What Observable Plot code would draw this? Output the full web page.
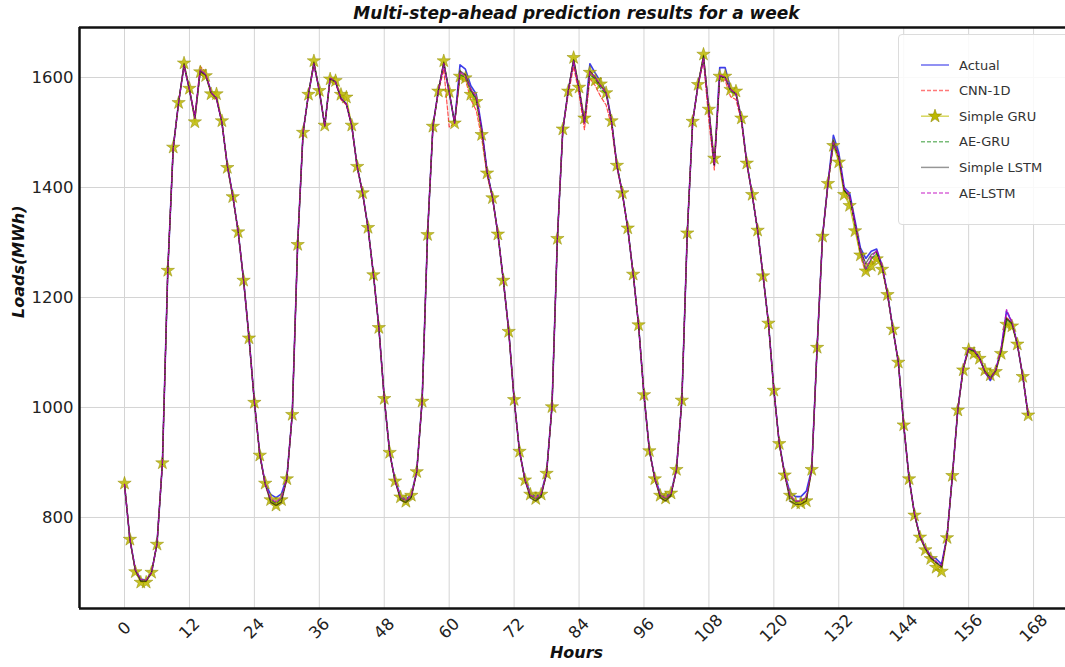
<!DOCTYPE html>
<html>
<head>
<meta charset="utf-8">
<script src="https://cdn.jsdelivr.net/npm/d3@7"></script>
<script src="https://cdn.jsdelivr.net/npm/@observablehq/plot@0.6"></script>
<style>
  html, body { margin: 0; padding: 0; background: #fff; overflow: hidden; }
  #wrap { position: relative; width: 1065px; height: 667px; font-family: "DejaVu Sans", sans-serif; }
  #legend { position: absolute; left: 898px; top: 34px; width: 185px; height: 189px;
            border: 1px solid #dcdcdc; border-radius: 4px; background: rgba(255,255,255,0.85); }
</style>
</head>
<body>
<div id="wrap"><div id="chart"></div><div id="legend"></div></div>
<script>
const title = "Multi-step-ahead prediction results for a week";
const xLabel = "Hours";
const yLabel = "Loads(MWh)";
const xTicks = [0, 12, 24, 36, 48, 60, 72, 84, 96, 108, 120, 132, 144, 156, 168];
const yTicks = [800, 1000, 1200, 1400, 1600];
const seriesNames = ["Actual", "CNN-1D", "Simple GRU", "AE-GRU", "Simple LSTM", "AE-LSTM"];

const actual = [
 860,760,705,688,686,700,752,898,1250,1472,1555,1622,1578,1526,1615,1605,1575,1562,1518,1440,1385,1320,1232,1128,
 1010,915,862,842,836,843,873,988,1298,1500,1570,1625,1576,1512,1600,1592,1562,1552,1512,1438,1390,1327,1242,1146,
 1017,918,868,840,833,842,884,1012,1314,1512,1576,1625,1574,1517,1623,1615,1585,1570,1510,1430,1382,1316,1232,1140,
 1015,920,870,845,838,845,882,1002,1308,1505,1576,1630,1580,1518,1625,1608,1592,1575,1522,1440,1390,1326,1243,1150,
 1023,922,872,845,838,846,888,1013,1317,1520,1587,1635,1540,1440,1618,1618,1580,1572,1526,1445,1387,1322,1240,1154,
 1032,935,880,845,838,838,848,888,1110,1311,1407,1495,1463,1400,1390,1340,1290,1271,1284,1288,1258,1207,1143,1083,
 968,871,806,766,745,730,725,715,765,876,996,1072,1109,1105,1090,1065,1049,1068,1105,1175,1155,1115,1057,986];

const cnn1d = [
 860,760,705,686,684,700,752,898,1250,1472,1555,1620,1578,1530,1620,1610,1572,1560,1518,1440,1385,1320,1232,1128,
 1010,913,860,830,825,832,870,988,1298,1500,1570,1622,1576,1512,1598,1590,1560,1550,1510,1436,1388,1327,1242,1146,
 1017,918,866,834,828,838,882,1012,1314,1512,1574,1615,1510,1517,1600,1596,1560,1540,1490,1422,1380,1316,1232,1140,
 1015,920,868,838,832,840,880,1002,1308,1505,1570,1620,1570,1505,1598,1585,1565,1550,1512,1436,1388,1326,1243,1150,
 1023,922,870,838,832,842,886,1013,1317,1520,1585,1630,1520,1432,1597,1595,1565,1560,1520,1442,1387,1322,1240,1154,
 1032,934,876,836,828,828,834,886,1110,1311,1405,1480,1450,1392,1378,1330,1275,1245,1262,1275,1252,1205,1143,1083,
 968,871,805,765,742,724,712,708,763,876,996,1070,1105,1100,1088,1066,1058,1066,1100,1165,1152,1115,1057,986];

const simpleGRU = [
 862,760,701,682,682,700,751,899,1249,1473,1554,1626,1580,1519,1610,1603,1570,1570,1521,1436,1383,1319,1231,1126,
 1009,913,862,832,822,832,870,987,1296,1500,1569,1630,1576,1513,1597,1594,1569,1564,1513,1438,1390,1327,1241,1145,
 1016,918,866,837,829,840,883,1011,1314,1511,1575,1630,1574,1517,1602,1599,1569,1556,1496,1426,1381,1315,1231,1138,
 1014,920,868,842,834,842,880,1001,1307,1506,1575,1636,1582,1526,1609,1595,1588,1572,1521,1440,1390,1326,1242,1150,
 1023,921,870,840,835,844,887,1013,1317,1520,1587,1642,1542,1453,1602,1602,1578,1575,1526,1444,1387,1322,1239,1153,
 1031,934,877,840,826,826,830,887,1109,1311,1407,1476,1446,1387,1367,1321,1277,1248,1258,1270,1251,1205,1142,1082,
 968,870,804,764,741,725,709,702,763,876,995,1068,1105,1098,1089,1068,1059,1065,1098,1151,1148,1115,1056,986];

const aeGRU = [
 860,760,704,686,685,700,752,898,1250,1472,1555,1622,1578,1526,1612,1604,1572,1562,1518,1440,1385,1320,1232,1128,
 1010,914,861,832,826,834,871,988,1298,1500,1570,1626,1576,1512,1598,1592,1562,1552,1512,1438,1390,1327,1242,1146,
 1017,918,867,836,830,838,883,1012,1314,1512,1576,1626,1574,1517,1605,1600,1575,1560,1505,1428,1382,1316,1232,1140,
 1015,920,869,840,833,841,881,1002,1308,1505,1576,1632,1580,1518,1605,1598,1580,1570,1520,1440,1390,1326,1243,1150,
 1023,922,871,840,834,842,887,1013,1317,1520,1587,1638,1540,1442,1600,1600,1575,1570,1524,1445,1387,1322,1240,1154,
 1032,935,878,838,828,830,836,887,1110,1311,1407,1478,1455,1395,1382,1332,1282,1250,1270,1280,1256,1207,1143,1083,
 968,871,806,765,743,728,718,712,765,876,996,1070,1106,1102,1090,1066,1055,1066,1102,1160,1152,1115,1057,986];

const simpleLSTM = [
 860,760,704,684,684,700,752,898,1250,1472,1555,1625,1578,1526,1612,1604,1572,1562,1518,1440,1385,1320,1232,1128,
 1010,914,860,828,822,828,870,988,1298,1500,1570,1628,1576,1512,1598,1592,1562,1552,1512,1438,1390,1327,1242,1146,
 1017,918,866,832,827,836,882,1012,1314,1512,1576,1628,1574,1517,1612,1605,1578,1562,1505,1428,1382,1316,1232,1140,
 1015,920,868,835,830,838,880,1002,1308,1505,1576,1632,1580,1518,1612,1600,1585,1572,1520,1440,1390,1326,1243,1150,
 1023,922,870,836,830,840,886,1013,1317,1520,1587,1640,1540,1442,1602,1600,1578,1570,1524,1445,1387,1322,1240,1154,
 1032,935,878,830,824,824,830,886,1110,1311,1407,1485,1455,1395,1385,1335,1285,1262,1278,1284,1256,1207,1143,1083,
 968,871,805,765,744,726,718,710,765,876,996,1071,1107,1103,1090,1065,1052,1067,1104,1162,1153,1115,1057,986];

const aeLSTM = [
 860,760,705,687,686,700,752,898,1250,1472,1555,1622,1578,1526,1614,1605,1573,1562,1518,1440,1385,1320,1232,1128,
 1010,915,861,834,828,836,871,988,1298,1500,1570,1625,1576,1512,1599,1592,1562,1552,1512,1438,1390,1327,1242,1146,
 1017,918,867,837,831,840,883,1012,1314,1512,1576,1625,1574,1517,1610,1602,1578,1565,1506,1429,1382,1316,1232,1140,
 1015,920,869,841,835,843,881,1002,1308,1505,1576,1630,1580,1518,1610,1600,1585,1572,1520,1440,1390,1326,1243,1150,
 1023,922,871,841,835,843,887,1013,1317,1520,1587,1636,1540,1442,1605,1600,1578,1570,1525,1445,1387,1322,1240,1154,
 1032,935,879,840,830,830,838,887,1110,1311,1407,1482,1458,1398,1386,1336,1285,1252,1272,1286,1258,1207,1143,1083,
 968,871,806,766,745,729,720,713,765,876,996,1071,1108,1104,1090,1065,1052,1068,1106,1178,1156,1115,1057,986];

const seriesValues = [actual, cnn1d, simpleGRU, aeGRU, simpleLSTM, aeLSTM];
const styles = {
  "Actual":      {stroke: "#1a1ae6", opacity: 0.85, width: 1.6, dash: null},
  "CNN-1D":      {stroke: "#ff0000", opacity: 0.7, width: 1.2, dash: "4,2"},
  "Simple GRU":  {stroke: "#bfbf00", opacity: 0.85, width: 1.2, dash: null},
  "AE-GRU":      {stroke: "#008000", opacity: 0.7, width: 1.2, dash: "4,2"},
  "Simple LSTM": {stroke: "#000000", opacity: 0.55, width: 1.3, dash: null},
  "AE-LSTM":     {stroke: "#bf00bf", opacity: 0.8, width: 1.3, dash: "4,2"}
};

const rows = seriesNames.map((name, i) => seriesValues[i].map((v, h) => ({series: name, hour: h, value: v})));
const xDomain = [-8.32, 173.9];
const yDomain = [634.5, 1690.9];

const marks = [
  Plot.ruleX(xTicks, {x: d => d, stroke: "#d4d4d4", strokeWidth: 1}),
  Plot.ruleY(yTicks, {y: d => d, stroke: "#d4d4d4", strokeWidth: 1})
];
seriesNames.forEach((name, i) => {
  const s = styles[name];
  marks.push(Plot.line(rows[i], {x: "hour", y: "value", stroke: s.stroke, strokeOpacity: s.opacity,
    strokeWidth: s.width, strokeDasharray: s.dash}));
  if (name === "Simple GRU") {
    marks.push(Plot.dot(rows[i], {x: "hour", y: "value", symbol: "star", r: 4.2,
      fill: "#bdb800", fillOpacity: 0.85, stroke: "#8f8a00", strokeOpacity: 0.8, strokeWidth: 0.6}));
  }
});
marks.push(
  Plot.ruleX([xDomain[0]], {stroke: "#111", strokeWidth: 2.5}),
  Plot.ruleY([yDomain[0]], {stroke: "#111", strokeWidth: 2.5}),
  Plot.ruleY([yDomain[1]], {stroke: "#111", strokeWidth: 2.5}),
  Plot.text(yTicks, {y: d => d, text: d => String(d), frameAnchor: "left", dx: -6, textAnchor: "end",
    fontSize: 16.5, fill: "#222"}),
  Plot.text(xTicks, {x: d => d, text: d => String(d), frameAnchor: "bottom", dy: 20, rotate: -45,
    textAnchor: "middle", lineAnchor: "middle", fontSize: 16.5, fill: "#222"}),
  Plot.text([title], {text: d => d, frameAnchor: "top", dy: -14, dx: 4, fontSize: 17,
    lineAnchor: "middle", fontWeight: "bold", fontStyle: "italic", fill: "#111"}),
  Plot.text([xLabel], {text: d => d, frameAnchor: "bottom", dy: 49, dx: 4, fontSize: 16,
    fontWeight: "bold", fontStyle: "italic", fill: "#111"}),
  Plot.text([yLabel], {text: d => d, frameAnchor: "left", dx: -61, rotate: -90, fontSize: 16,
    fontWeight: "bold", fontStyle: "italic", fill: "#111"})
);

const chart = Plot.plot({
  width: 1065, height: 667,
  marginLeft: 79, marginRight: 0, marginTop: 27, marginBottom: 59,
  style: {fontFamily: "DejaVu Sans, sans-serif", background: "#fff", overflow: "visible"},
  x: {domain: xDomain, axis: null},
  y: {domain: yDomain, axis: null},
  marks
});
document.getElementById("chart").appendChild(chart);

// legend
const lg = d3.select("#legend").append("svg").attr("width", 185).attr("height", 189)
  .style("font-family", "DejaVu Sans, sans-serif");
seriesNames.forEach((name, i) => {
  const s = styles[name];
  const y = 30 + i * 25.6;
  lg.append("line").attr("x1", 22).attr("x2", 50).attr("y1", y).attr("y2", y)
    .attr("stroke", s.stroke).attr("stroke-opacity", s.opacity * 0.75).attr("stroke-width", 1.5)
    .attr("stroke-dasharray", s.dash);
  if (name === "Simple GRU") {
    lg.append("path").attr("d", d3.symbol(d3.symbolStar, 55)())
      .attr("transform", `translate(36,${y})`).attr("fill", "#bdb800").attr("stroke", "#8f8a00").attr("stroke-width", 0.6);
  }
  lg.append("text").attr("x", 60).attr("y", y).attr("dy", "0.35em").attr("font-size", 13)
    .attr("fill", "#333").text(name);
});
</script>
</body>
</html>
